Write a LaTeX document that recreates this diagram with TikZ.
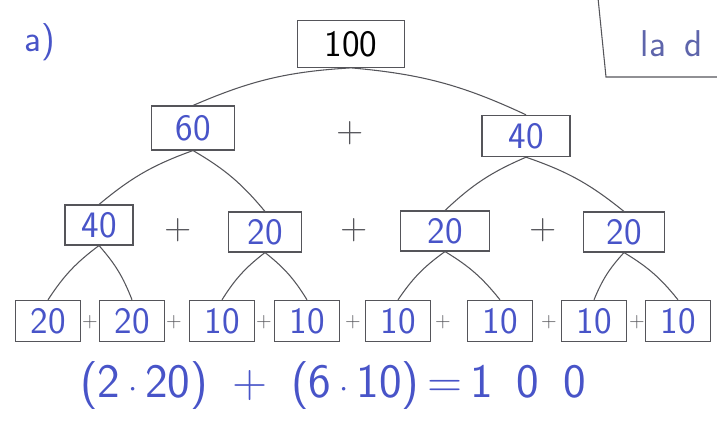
\documentclass[tikz,border=0pt]{standalone}
\usepackage{amsmath,amssymb}
\usepackage{tikz}
\usetikzlibrary{arrows.meta,positioning}

\definecolor{ink}{RGB}{72,84,200}
\definecolor{pencil}{RGB}{85,85,90}

\begin{document}
\begin{tikzpicture}[x=0.75pt, y=-0.75pt, >=Stealth, every node/.style={font=\fontsize{28}{32}\sffamily}]
  \useasboundingbox (0,0) rectangle (717,426);
  \clip (0,0) rectangle (717,426);
  \tikzset{
    numbox/.style={draw=pencil, thick, text=ink, minimum height=31pt, inner sep=1pt},
    leafbox/.style={numbox, minimum width=49pt, minimum height=31pt},
    plus/.style={text=pencil},
    plussmall/.style={text=pencil, font=\fontsize{16}{18}\sffamily},
    branch/.style={draw=pencil, thick}
  }

  \node[ink] (lbl) at (40,42) {a)};

  % top row
  \node[numbox, text=black, minimum width=80pt, minimum height=35pt] (top) at (351,44) {100};

  % second row
  \node[numbox, minimum width=62pt, minimum height=33pt] (a1) at (193,128) {60};
  \node[plus] (pa) at (350,133) {+};
  \node[numbox, minimum width=66pt, minimum height=31pt] (a2) at (526,136) {40};

  % third row
  \node[numbox, minimum width=51pt, minimum height=30pt] (b1) at (99,225) {40};
  \node[numbox, minimum width=55pt, minimum height=30pt] (b2) at (265,232) {20};
  \node[numbox, minimum width=67pt, minimum height=30pt] (b3) at (445,231) {20};
  \node[numbox, minimum width=61pt, minimum height=30pt] (b4) at (624,232) {20};
  \foreach \x [count=\i] in {178,354,543}
    \node[plus] (pb\i) at (\x,230) {+};

  % bottom row
  \foreach \x/\v [count=\i] in {48/20,132/20,222/10,307/10,398/10,500/10,594/10,678/10}
    \node[leafbox] (c\i) at (\x,321) {\v};
  \foreach \x [count=\i] in {90,174,264,353,443,549,637}
    \node[plussmall] (pc\i) at (\x,322) {+};

  % branches
  \foreach \p/\l/\r in {top/a1/a2, a1/b1/b2, a2/b3/b4, b1/c1/c2, b2/c3/c4, b3/c5/c6, b4/c7/c8} {
    \draw[branch] (\p.south) to[bend right=10] (\l.north);
    \draw[branch] (\p.south) to[bend left=10] (\r.north);
  }

  \node[ink, font=\fontsize{36}{40}\sffamily] (eq) at (333,386)
    {(2\,$\cdot$\,20)\enskip+\enskip(6\,$\cdot$\,10)\,=\,1\enskip0\enskip0};

  % corner of the next box
  \coordinate (k1) at (598,-2);
  \coordinate (k2) at (606,77);
  \coordinate (k3) at (720,77);
  \draw[pencil, thick] (k1) -- (k2) -- (k3);
  \node[text=ink!60!gray, anchor=west] (next) at (636,44) {la\enskip d};
\end{tikzpicture}
\end{document}
